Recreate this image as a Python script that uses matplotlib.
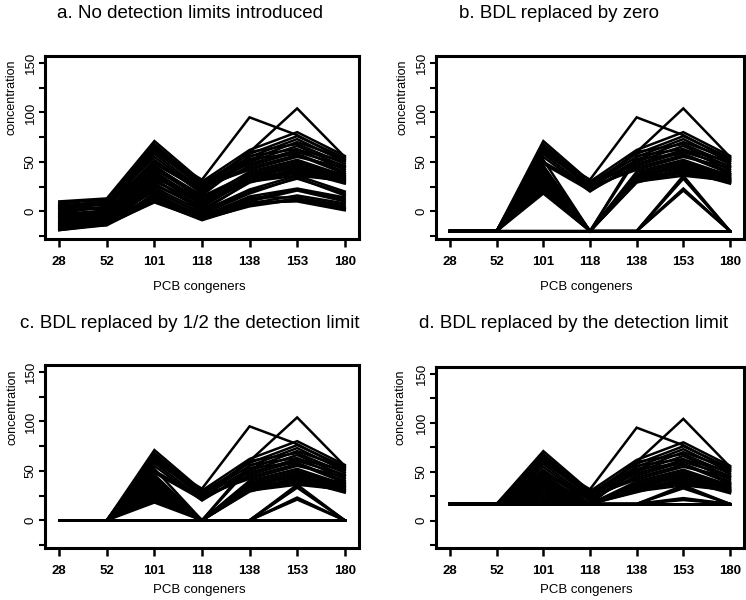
import matplotlib
matplotlib.use("Agg")
import matplotlib.pyplot as plt
import numpy as np

plt.rcParams['font.family'] = ['Liberation Sans', 'DejaVu Sans']

congeners = ["28", "52", "101", "118", "138", "153", "180"]

# Underlying concentrations (panel a), one row per sample, columns = congeners
outlier_138 = [2, 8, 60, 32, 95, 77, 52]
outlier_153 = [5, 10, 66, 25, 60, 104, 55]
group_high = [
    [10, 13, 71, 30, 62, 80, 56],
    [8, 12, 68, 28, 58, 76, 54],
    [6, 9, 65, 26, 55, 73, 50],
    [4, 11, 62, 24, 52, 70, 53],
    [7, 6, 58, 22, 60, 68, 48],
    [2, 8, 55, 20, 50, 66, 45],
    [0, 4, 52, 18, 56, 63, 42],
    [5, 2, 60, 27, 48, 62, 51],
    [-2, 5, 48, 21, 46, 60, 46],
    [3, 7, 45, 16, 53, 58, 40],
    [-4, 0, 50, 23, 44, 57, 38],
    [1, 3, 63, 25, 42, 55, 44],
]
group_mid = [
    [-6, -2, 44, 12, 40, 52, 36],
    [-8, -4, 42, 15, 38, 50, 34],
    [-3, 1, 40, 10, 36, 48, 37],
    [-10, -6, 38, 8, 35, 46, 33],
    [-5, 0, 46, 14, 33, 47, 35],
    [-12, -8, 36, 6, 37, 44, 31],
    [-7, -3, 34, 11, 32, 42, 32],
    [-9, -5, 32, 4, 34, 45, 29],
    [-11, -7, 30, 9, 30, 40, 30],
    [-4, -1, 39, 7, 31, 43, 38],
    [-13, -9, 28, 2, 29, 41, 28],
    [-6, -2, 35, 13, 35, 39, 33],
    [-14, -10, 26, 5, 32, 38, 30],
    [-8, -6, 33, 0, 30, 36, 31],
]
group_low = [
    [-15, -10, 24, 0, 22, 36, 20],
    [-17, -12, 22, -3, 18, 34, 16],
    [-12, -8, 20, -2, 20, 33, 18],
    [-19, -14, 18, -5, 15, 23, 14],
    [-16, -11, 16, -6, 12, 22, 12],
    [-14, -13, 14, -4, 10, 21, 10],
    [-18, -12, 12, -8, 8, 16, 8],
    [-13, -9, 15, -7, 14, 14, 6],
    [-17, -14, 10, -9, 6, 13, 4],
    [-19, -13, 9, -8, 5, 12, 3],
    [-15, -11, 11, -6, 7, 11, 2],
    [-16, -12, 13, -7, 9, 10, 1],
]

# detection limits per congener
detection_limit = [15, 15, 18, 20, 28, 18, 27]
# plotted value of BDL observations in panels b, c, d
bdl_value_b = -20
bdl_value_c = 0
bdl_value_d = 17

titles = ["a. No detection limits introduced",
          "b. BDL replaced by zero",
          "c. BDL replaced by 1/2 the detection limit",
          "d. BDL replaced by the detection limit"]

raw = np.array([outlier_138, outlier_153] + group_high + group_mid + group_low, dtype=float)
dl = np.array(detection_limit, dtype=float)

def replaced(val):
    out = raw.copy()
    out[raw < dl] = val
    return out

panels = [raw, replaced(bdl_value_b), replaced(bdl_value_c), replaced(bdl_value_d)]

fig = plt.figure(figsize=(7.46, 6.0), dpi=100)
W, H = 746.0, 600.0
boxes = [(45, 56, 359, 239), (436, 56, 744, 239), (45, 365, 359, 548), (436, 367, 744, 548)]
title_pos = [(190, 14), (559, 14), (190, 324), (574, 324)]
xlab_pos = [(199, 287), (586, 287), (199, 590), (586, 590)]
ylab_pos = [(12, 97), (403, 97), (13, 407), (401, 407)]

x = np.arange(1, len(congeners) + 1)
for i, data in enumerate(panels):
    l, t, r, b = boxes[i]
    ax = fig.add_axes([l / W, 1 - b / H, (r - l) / W, (b - t) / H])
    for row in data:
        ax.plot(x, row, color='black', lw=1.8, solid_joinstyle='miter')
    ax.set_xlim(0.7, 7.3)
    ax.set_ylim(-28, 157)
    ax.set_xticks(x)
    ax.set_xticklabels(congeners, fontweight='bold', fontsize=9.5)
    ax.set_yticks(np.arange(-25, 151, 25))
    ax.set_yticklabels(['' if v % 50 else str(v) for v in range(-25, 151, 25)],
                       rotation=90, va='center', fontsize=9.5)
    ax.tick_params(axis='x', length=6, width=1.8, pad=6)
    ax.tick_params(axis='y', length=4, width=1.5, pad=2)
    for s in ax.spines.values():
        s.set_linewidth(2.2)
    tx, ty = title_pos[i]
    fig.text(tx / W, 1 - ty / H, titles[i], ha='center', va='center', fontsize=13.5)
    lx, ly = xlab_pos[i]
    fig.text(lx / W, 1 - ly / H, "PCB congeners", ha='center', va='center', fontsize=9.5)
    yx, yy = ylab_pos[i]
    fig.text(yx / W, 1 - yy / H, "concentration", ha='center', va='center', fontsize=9, rotation=90)

fig.savefig("out.png", dpi=100)
